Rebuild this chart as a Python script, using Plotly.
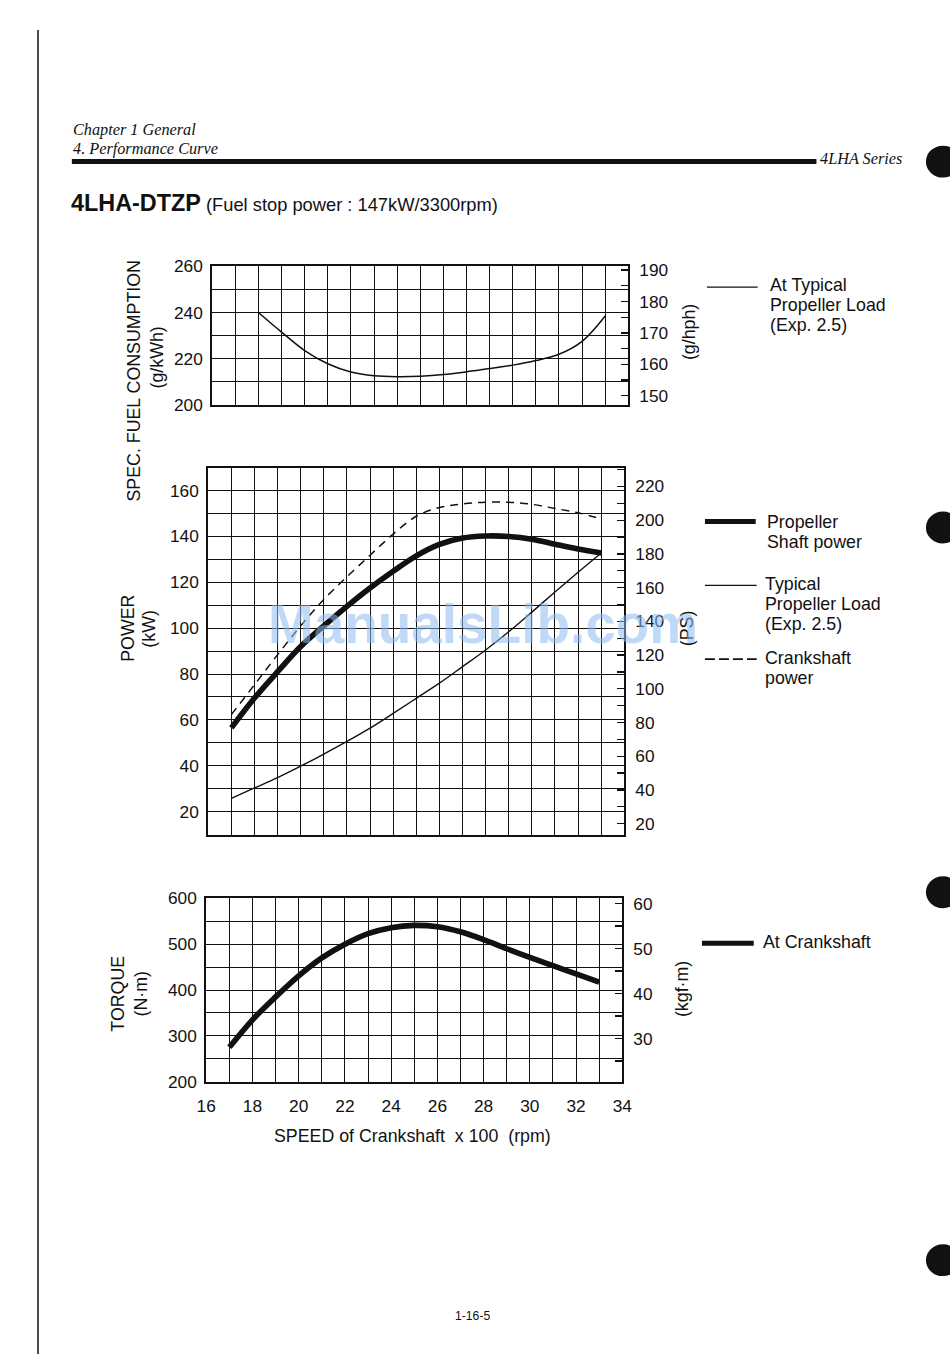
import plotly.graph_objects as go

# ---------------- data (speed in x100 rpm) ----------------
fuel_speed = [18, 19, 20, 21, 22, 23, 24, 25, 26, 27, 28, 29, 30, 31, 32, 33]
fuel_gkwh = [240, 231.5, 223.5, 217.8, 214.2, 212.6, 212.2, 212.4, 213.1, 214.3, 215.7, 217.2, 219.2, 221.9, 227.5, 238.5]

power_speed = [17, 18, 19, 20, 21, 22, 23, 24, 25, 26, 27, 28, 29, 30, 31, 32, 33]
shaft_power = [56.5, 69.5, 81, 92, 101, 109.5, 117.5, 124.8, 131.5, 136.5, 139.3, 140.2, 140, 138.8, 136.6, 134.5, 132.8]
crank_power = [62.3, 75.3, 88.4, 101, 112.5, 122.4, 131.8, 141, 148.8, 152.6, 154.2, 154.9, 154.9, 154, 152.2, 150.3, 147.7]
prop_load = [25.8, 30.3, 34.8, 39.8, 45.1, 50.6, 56.4, 62.8, 69.4, 76, 83.2, 90.5, 98.4, 107, 115.8, 124.4, 132.8]

torque_speed = [17, 18, 19, 20, 21, 22, 23, 24, 25, 26, 27, 28, 29, 30, 31, 32, 33]
torque_nm = [275, 335, 385, 431, 470, 500, 523, 536, 541, 538, 527, 510, 490, 471, 453, 435, 417]

x_ticks = [16, 18, 20, 22, 24, 26, 28, 30, 32, 34]
fuel_left_ticks = [200, 220, 240, 260]
fuel_right_ticks = [150, 160, 170, 180, 190]
power_left_ticks = [20, 40, 60, 80, 100, 120, 140, 160]
power_right_ticks = [20, 40, 60, 80, 100, 120, 140, 160, 180, 200, 220]
torque_left_ticks = [200, 300, 400, 500, 600]
torque_right_ticks = [30, 40, 50, 60]

G_HPH = 0.7355      # g/kWh -> g/hph
PS = 1.35962        # kW -> PS
KGFM = 1 / 9.80665  # N·m -> kgf·m

W, H = 950, 1354
# the photographed page shows an 8px frame; compensate so positions land where the reference has them
SX, SY = (W + 16) / W, (H + 16) / H
def px(x): return (x * SX - 8) / W
def py(y): return 1 - (y * SY - 8) / H
def fs(s): return s * SX

FONT = "Liberation Sans, Arial, sans-serif"
SERIF = "Liberation Serif, Times New Roman, serif"
INK = "#111111"

fig = go.Figure()

# fuel consumption
fig.add_trace(go.Scatter(x=fuel_speed, y=fuel_gkwh, mode="lines", line=dict(color=INK, width=1.5, shape="spline"),
                         xaxis="x", yaxis="y", showlegend=False, hoverinfo="skip"))
fig.add_trace(go.Scatter(x=fuel_speed, y=[v * G_HPH for v in fuel_gkwh], mode="lines", line=dict(width=0),
                         opacity=0, xaxis="x", yaxis="y2", showlegend=False, hoverinfo="skip"))
# power
fig.add_trace(go.Scatter(x=power_speed, y=prop_load, mode="lines", line=dict(color=INK, width=1.4, shape="spline"),
                         xaxis="x2", yaxis="y3", showlegend=False, hoverinfo="skip"))
fig.add_trace(go.Scatter(x=power_speed, y=crank_power, mode="lines",
                         line=dict(color=INK, width=1.5, dash="8px,6px", shape="spline"),
                         xaxis="x2", yaxis="y3", showlegend=False, hoverinfo="skip"))
fig.add_trace(go.Scatter(x=power_speed, y=shaft_power, mode="lines", line=dict(color=INK, width=5.6, shape="spline"),
                         xaxis="x2", yaxis="y3", showlegend=False, hoverinfo="skip"))
fig.add_trace(go.Scatter(x=power_speed, y=[v * PS for v in shaft_power], mode="lines", line=dict(width=0),
                         opacity=0, xaxis="x2", yaxis="y4", showlegend=False, hoverinfo="skip"))
# torque
fig.add_trace(go.Scatter(x=torque_speed, y=torque_nm, mode="lines", line=dict(color=INK, width=5.6, shape="spline"),
                         xaxis="x3", yaxis="y5", showlegend=False, hoverinfo="skip"))
fig.add_trace(go.Scatter(x=torque_speed, y=[v * KGFM for v in torque_nm], mode="lines", line=dict(width=0),
                         opacity=0, xaxis="x3", yaxis="y6", showlegend=False, hoverinfo="skip"))

tickfont = dict(family=FONT, size=fs(17), color=INK)
GW = 1

def xax(x0, x1, anchor, labels):
    return dict(domain=[px(x0), px(x1)], anchor=anchor, range=[16, 34], tickvals=x_ticks,
                showticklabels=labels, ticks="", showgrid=True, gridcolor=INK, gridwidth=GW,
                minor=dict(dtick=1, tick0=16, showgrid=True, gridcolor=INK, gridwidth=GW),
                showline=True, mirror=True, linecolor=INK, linewidth=2, zeroline=False,
                tickfont=tickfont, ticklabelstandoff=8, fixedrange=True)

def yleft(y0, y1, anchor, rng, vals, minor_dt):
    return dict(domain=[py(y1), py(y0)], anchor=anchor, range=rng, tickvals=vals, ticks="",
                showgrid=True, gridcolor=INK, gridwidth=GW,
                minor=dict(dtick=minor_dt, tick0=rng[0], showgrid=True, gridcolor=INK, gridwidth=GW),
                showline=True, mirror=True, linecolor=INK, linewidth=2, zeroline=False,
                tickfont=tickfont, ticklabelstandoff=4, fixedrange=True)

def yright(overlay, anchor, rng, vals, minor_dt):
    return dict(overlaying=overlay, anchor=anchor, side="right", range=rng, tickvals=vals,
                ticks="inside", ticklen=7, tickcolor=INK, tickwidth=1.3,
                minor=dict(dtick=minor_dt, ticks="inside", ticklen=7, tickcolor=INK, tickwidth=1.3, showgrid=False),
                showgrid=False, showline=False, zeroline=False, tickfont=tickfont,
                ticklabelstandoff=10, fixedrange=True)

fig.update_layout(
    width=W, height=H, margin=dict(l=0, r=0, t=0, b=0),
    paper_bgcolor="white", plot_bgcolor="white", showlegend=False,
    xaxis=xax(211, 629, "y", False),
    xaxis2=xax(207, 625, "y3", False),
    xaxis3=xax(205, 623, "y5", True),
    yaxis=yleft(265, 404, "x", [200, 260], fuel_left_ticks, 10),
    yaxis2=yright("y", "x", [200 * G_HPH, 260 * G_HPH], fuel_right_ticks, 5),
    yaxis3=yleft(467, 835, "x2", [10, 170], power_left_ticks, 10),
    yaxis4=yright("y3", "x2", [10 * PS, 170 * PS], power_right_ticks, 10),
    yaxis5=yleft(899, 1083, "x3", [200, 600], torque_left_ticks, 50),
    yaxis6=yright("y5", "x3", [200 * KGFM, 600 * KGFM], torque_right_ticks, 5),
)

ann = []
def text(x, y, s, size=17.5, angle=0, xa="center", ya="middle", family=FONT, color=INK, align="left"):
    ann.append(dict(x=px(x), y=py(y), xref="paper", yref="paper", text=s, showarrow=False,
                    textangle=angle, xanchor=xa, yanchor=ya, align=align,
                    font=dict(family=family, size=fs(size), color=color)))

# axis titles
text(132, 380, "SPEC. FUEL CONSUMPTION", angle=-90)
text(156, 356, "(g/kWh)", angle=-90)
text(690, 331, "(g/hph)", angle=-90)
text(127, 628, "POWER", angle=-90)
text(148, 628, "(kW)", angle=-90)
text(688, 628, "(PS)", angle=-90)
text(116, 995, "TORQUE", angle=-90)
text(139, 995, "(N·m)", angle=-90)
text(683, 990, "(kgf·m)", angle=-90)
text(412, 1137, "SPEED of Crankshaft  x 100  (rpm)")

# legends (one annotation per text line to keep the tight line spacing)
LEG = 17.5
def legend_block(x, y0, lines, step=20):
    for i, s in enumerate(lines):
        text(x, y0 + i * step, s, size=LEG, xa="left")

legend_block(769, 284, ["At Typical", "Propeller Load", "(Exp. 2.5)"])
legend_block(766, 522, ["Propeller", "Shaft power"])
legend_block(764, 584, ["Typical", "Propeller Load", "(Exp. 2.5)"])
legend_block(764, 658, ["Crankshaft", "power"])
text(762, 943, "At Crankshaft", size=LEG, xa="left")

# header
text(69, 128, "<i>Chapter 1 General</i>", size=16, xa="left", family=SERIF)
text(69, 147, "<i>4. Performance Curve</i>", size=16, xa="left", family=SERIF)
text(820, 157, "<i>4LHA Series</i>", size=16, xa="left", family=SERIF)
text(67, 202, "<b>4LHA-DTZP</b>", size=23, xa="left")
text(203, 203, "(Fuel stop power : 147kW/3300rpm)", size=18, xa="left")
text(472, 1318, "1-16-5", size=12)

# watermark
text(483, 624, "<b>ManualsLib.com</b>", size=54, color="rgba(140,185,240,0.55)")

fig.update_layout(annotations=ann)

shapes = []
def line(x0, y0, x1, y1, w=1.3, dash="solid"):
    shapes.append(dict(type="line", xref="paper", yref="paper", x0=px(x0), y0=py(y0), x1=px(x1), y1=py(y1),
                       line=dict(color=INK, width=w, dash=dash)))

line(708, 286, 759, 286, 1.3)
line(706, 521, 757, 521, 5)
line(706, 585, 758, 585, 1.3)
line(706, 659, 758, 659, 1.8, "10px,4px")
line(703, 944, 755, 944, 5)
line(70, 160, 818, 160, 5)
line(36, 28, 36, 1360, 1.5)

for cy in [160, 527, 893, 1262]:
    shapes.append(dict(type="circle", xref="paper", yref="paper", x0=px(928), x1=px(962),
                       y0=py(cy + 16), y1=py(cy - 16), fillcolor=INK, line=dict(width=0)))

fig.update_layout(shapes=shapes)
fig.write_html("out.html", config=dict(displayModeBar=False, staticPlot=True),
               post_script="document.body.style.margin='0';document.body.style.padding='0';"
                           "document.documentElement.style.overflow='hidden';")
